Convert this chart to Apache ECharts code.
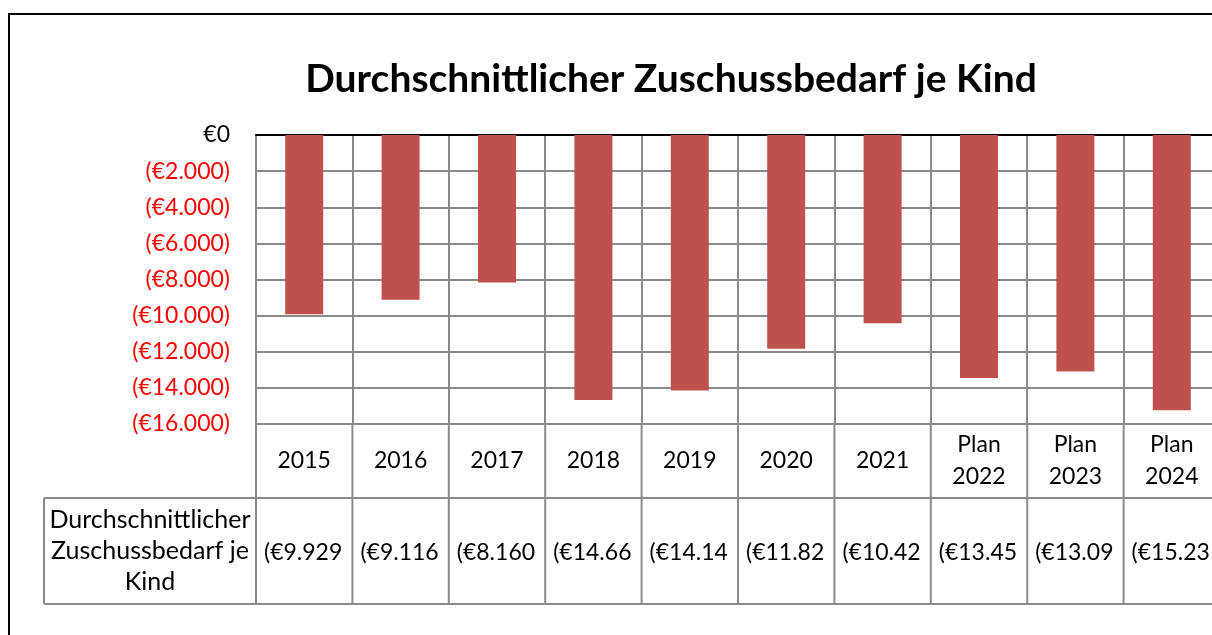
<!DOCTYPE html>
<html>
<head>
<meta charset="utf-8">
<title>Durchschnittlicher Zuschussbedarf je Kind</title>
<script src="https://cdn.jsdelivr.net/npm/echarts@6/dist/echarts.min.js"></script>
<style>
  html, body { margin: 0; padding: 0; background: #fff; }
  #chart { width: 1212px; height: 635px; }
</style>
</head>
<body>
<div id="chart"></div>
<script>
// chart data
const categories = ['2015', '2016', '2017', '2018', '2019', '2020', '2021', 'Plan\n2022', 'Plan\n2023', 'Plan\n2024']
const zuschuss = [-9929, -9116, -8160, -14668, -14148, -11828, -10421, -13451, -13095, -15238]
const seriesName = 'Durchschnittlicher\nZuschussbedarf je\nKind'
const titleText = 'Durchschnittlicher Zuschussbedarf je Kind'

const fontFamily = 'Lato, "Open Sans", sans-serif'
const gridColor = '#8a8a8a'
const barColor = '#c0504d'

function euro(v) {
  if (v === 0) return '€0'
  const s = String(Math.abs(Math.round(v))).replace(/\B(?=(\d{3})+(?!\d))/g, '.')
  return v < 0 ? '(€' + s + ')' : '€' + s
}

const chart = echarts.init(document.getElementById('chart'))

const option = {
  backgroundColor: '#fff',
  animation: false,
  title: {
    text: titleText,
    left: 666,
    top: 55,
    textAlign: 'center',
    textStyle: { fontFamily, fontSize: 39, fontWeight: 'bold', color: '#000' },
  },
  grid: { left: 256, top: 135, width: 964, height: 289, containLabel: false, outerBoundsMode: 'none' },
  xAxis: [
    {
      type: 'category',
      position: 'top',
      data: categories,
      axisLine: { show: true, onZero: false, lineStyle: { color: '#000', width: 2 } },
      axisTick: { show: false },
      axisLabel: { show: false },
      splitLine: { show: true, lineStyle: { color: gridColor, width: 2 } },
    },
    {
      type: 'category',
      position: 'bottom',
      data: categories,
      axisLine: { show: false, onZero: false },
      axisTick: { show: false },
      axisLabel: {
        show: true,
        interval: 0,
        margin: 37,
        verticalAlign: 'middle',
        lineHeight: 32,
        fontFamily,
        fontSize: 23,
        color: '#000',
      },
      splitLine: { show: false },
    },
  ],
  yAxis: {
    type: 'value',
    min: -16000,
    max: 0,
    interval: 2000,
    axisLine: { show: true, lineStyle: { color: gridColor, width: 2 } },
    axisTick: { show: false },
    splitLine: { show: true, lineStyle: { color: gridColor, width: 2 } },
    axisLabel: {
      margin: 26,
      fontFamily,
      fontSize: 23,
      formatter: (v) => euro(v),
      color: (v) => (Number(v) === 0 ? '#000' : '#ff0000'),
    },
  },
  series: [
    {
      name: seriesName,
      type: 'bar',
      xAxisIndex: 0,
      barWidth: 38,
      itemStyle: { color: barColor },
      data: zuschuss,
    },
  ],
}

chart.setOption(option)

// data table under the plot, placed from the axes
function buildTable() {
  const centers = categories.map((c, i) => chart.convertToPixel({ xAxisIndex: 0 }, i))
  const colW = centers[1] - centers[0]
  const plotBottom = chart.convertToPixel({ yAxisIndex: 0 }, -16000)
  const rowTop = 498
  const rowBottom = 604
  const headLeft = 44
  const right = centers[centers.length - 1] + colW / 2
  const line = { stroke: gridColor, lineWidth: 2 }
  const els = []

  els.push({
    type: 'rect',
    shape: { x: 9, y: 14, width: 1400, height: 700 },
    style: { fill: 'none', stroke: '#000', lineWidth: 2 },
    silent: true,
  })

  centers.forEach((c) => {
    els.push({ type: 'line', shape: { x1: c - colW / 2, y1: plotBottom, x2: c - colW / 2, y2: rowBottom }, style: line, silent: true })
  })
  els.push({ type: 'line', shape: { x1: right, y1: plotBottom, x2: right, y2: rowBottom }, style: line, silent: true })
  els.push({ type: 'line', shape: { x1: headLeft, y1: rowTop, x2: right, y2: rowTop }, style: line, silent: true })
  els.push({ type: 'line', shape: { x1: headLeft, y1: rowBottom, x2: right, y2: rowBottom }, style: line, silent: true })
  els.push({ type: 'line', shape: { x1: headLeft, y1: rowTop, x2: headLeft, y2: rowBottom }, style: line, silent: true })

  els.push({
    type: 'text',
    x: (headLeft + centers[0] - colW / 2) / 2,
    y: (rowTop + rowBottom) / 2,
    style: {
      text: seriesName,
      fontFamily,
      fontSize: 25,
      lineHeight: 31,
      fill: '#000',
      align: 'center',
      verticalAlign: 'middle',
    },
    silent: true,
  })

  zuschuss.forEach((v, i) => {
    els.push({
      type: 'text',
      x: centers[i] - colW / 2 + 8,
      y: (rowTop + rowBottom) / 2 + 2,
      style: {
        text: euro(v),
        fontFamily,
        fontSize: 23,
        fill: '#000',
        align: 'left',
        verticalAlign: 'middle',
        width: colW - 14,
        overflow: 'truncate',
        ellipsis: '',
      },
      silent: true,
    })
  })

  chart.setOption({ graphic: { elements: els } })
}

buildTable()
</script>
</body>
</html>
